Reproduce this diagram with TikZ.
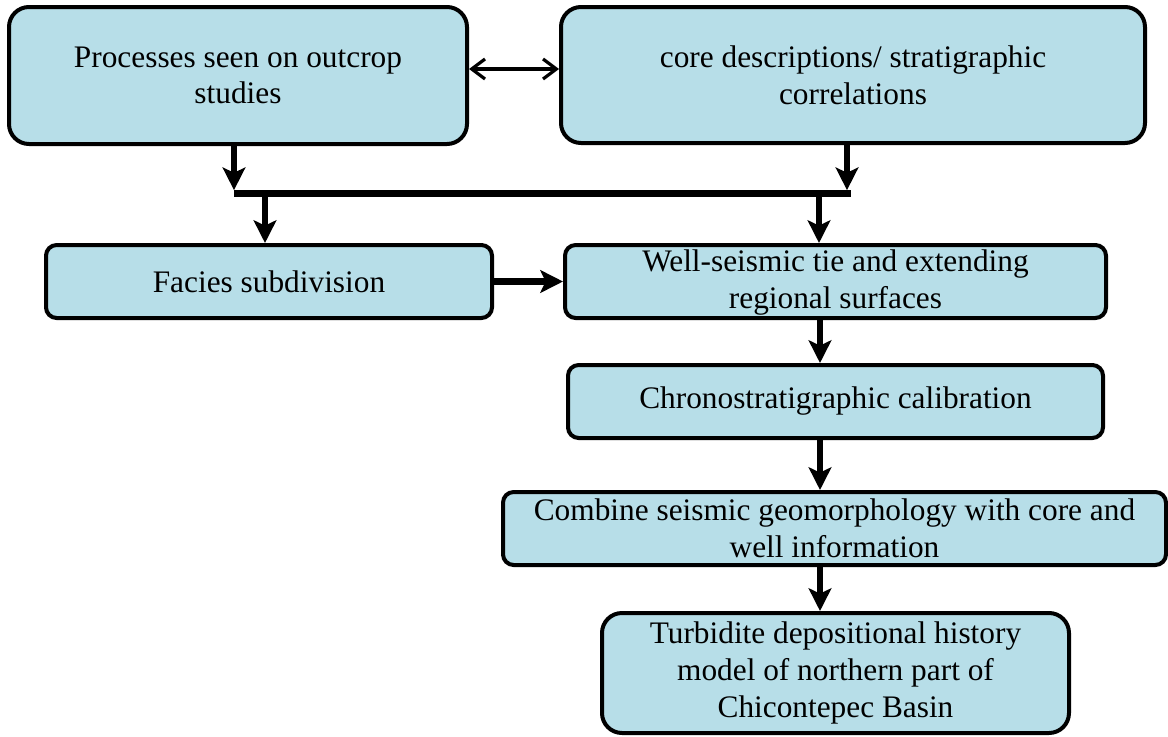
\documentclass[tikz,border=0pt]{standalone}
\usepackage{fontspec}
\setmainfont{Liberation Serif}
\usetikzlibrary{arrows.meta}

\definecolor{boxblue}{RGB}{183,222,232}
\tikzset{every picture/.style={line width=0.75pt}}
\tikzset{
  stepbox/.style={draw, line width=3pt, fill=boxblue, rounded corners=8pt,
    align=center, inner sep=2pt, font=\fontsize{23.5}{27.5}\selectfont},
  bigbox/.style={stepbox, rounded corners=15pt},
  flow/.style={line width=5pt, -{Stealth[length=17pt,width=17pt,inset=4pt]}},
  bar/.style={line width=5pt},
  link/.style={line width=2.4pt, {Straight Barb[length=10pt,width=15pt]}-{Straight Barb[length=10pt,width=15pt]}}
}

\begin{document}
\begin{tikzpicture}[x=0.75pt,y=0.75pt,yscale=-1,xscale=1]
    \useasboundingbox (0,0) rectangle (1168,736);

    % Boxes
    \node [bigbox, minimum width=343.5pt, minimum height=102.75pt] (outcrop) at (238,75.5) {Processes seen on outcrop\\studies};
    \node [bigbox, minimum width=438pt, minimum height=102pt] (cores) at (853,75) {core descriptions/ stratigraphic\\correlations};
    \node [stepbox, minimum width=334.5pt, minimum height=54.75pt] (facies) at (269,281.5) {Facies subdivision};
    \node [stepbox, minimum width=405.75pt, minimum height=54.75pt, text depth=4pt] (welltie) at (835.5,281.5) {Well-seismic tie and extending\\regional surfaces};
    \node [stepbox, minimum width=401.25pt, minimum height=54.75pt] (chrono) at (835.5,401.5) {Chronostratigraphic calibration};
    \node [stepbox, minimum width=497.25pt, minimum height=54.75pt] (combine) at (834.5,528.5) {Combine seismic geomorphology with core and\\well information};
    \node [bigbox, minimum width=350.25pt, minimum height=90pt] (history) at (835.5,673) {Turbidite depositional history\\model of northern part of\\Chicontepec Basin};

    % Join bar
    \coordinate (barL) at (234,193.5);
    \coordinate (barR) at (851,193.5);
    \coordinate (barF) at (265,193.5);
    \coordinate (barW) at (819,193.5);
    \coordinate (spine) at (820,0);
    \draw [bar] (barL) -- (barR);

    % Connectors
    \draw [link] (outcrop.east |- 0,69) -- (cores.west |- 0,69);
    \draw [flow] (outcrop.south -| barL) -- ([yshift=-2.5pt]barL);
    \draw [flow] (cores.south -| 847,0) -- ([yshift=-2.5pt]barR -| 847,0);
    \draw [flow] (barF) -- (barF |- facies.north);
    \draw [flow] (barW) -- (barW |- welltie.north);
    \draw [flow] (facies.east) -- (welltie.west);
    \draw [flow] (spine |- welltie.south) -- (spine |- chrono.north);
    \draw [flow] (spine |- chrono.south) -- (spine |- combine.north);
    \draw [flow] (spine |- combine.south) -- (spine |- history.north);

\end{tikzpicture}
\end{document}
